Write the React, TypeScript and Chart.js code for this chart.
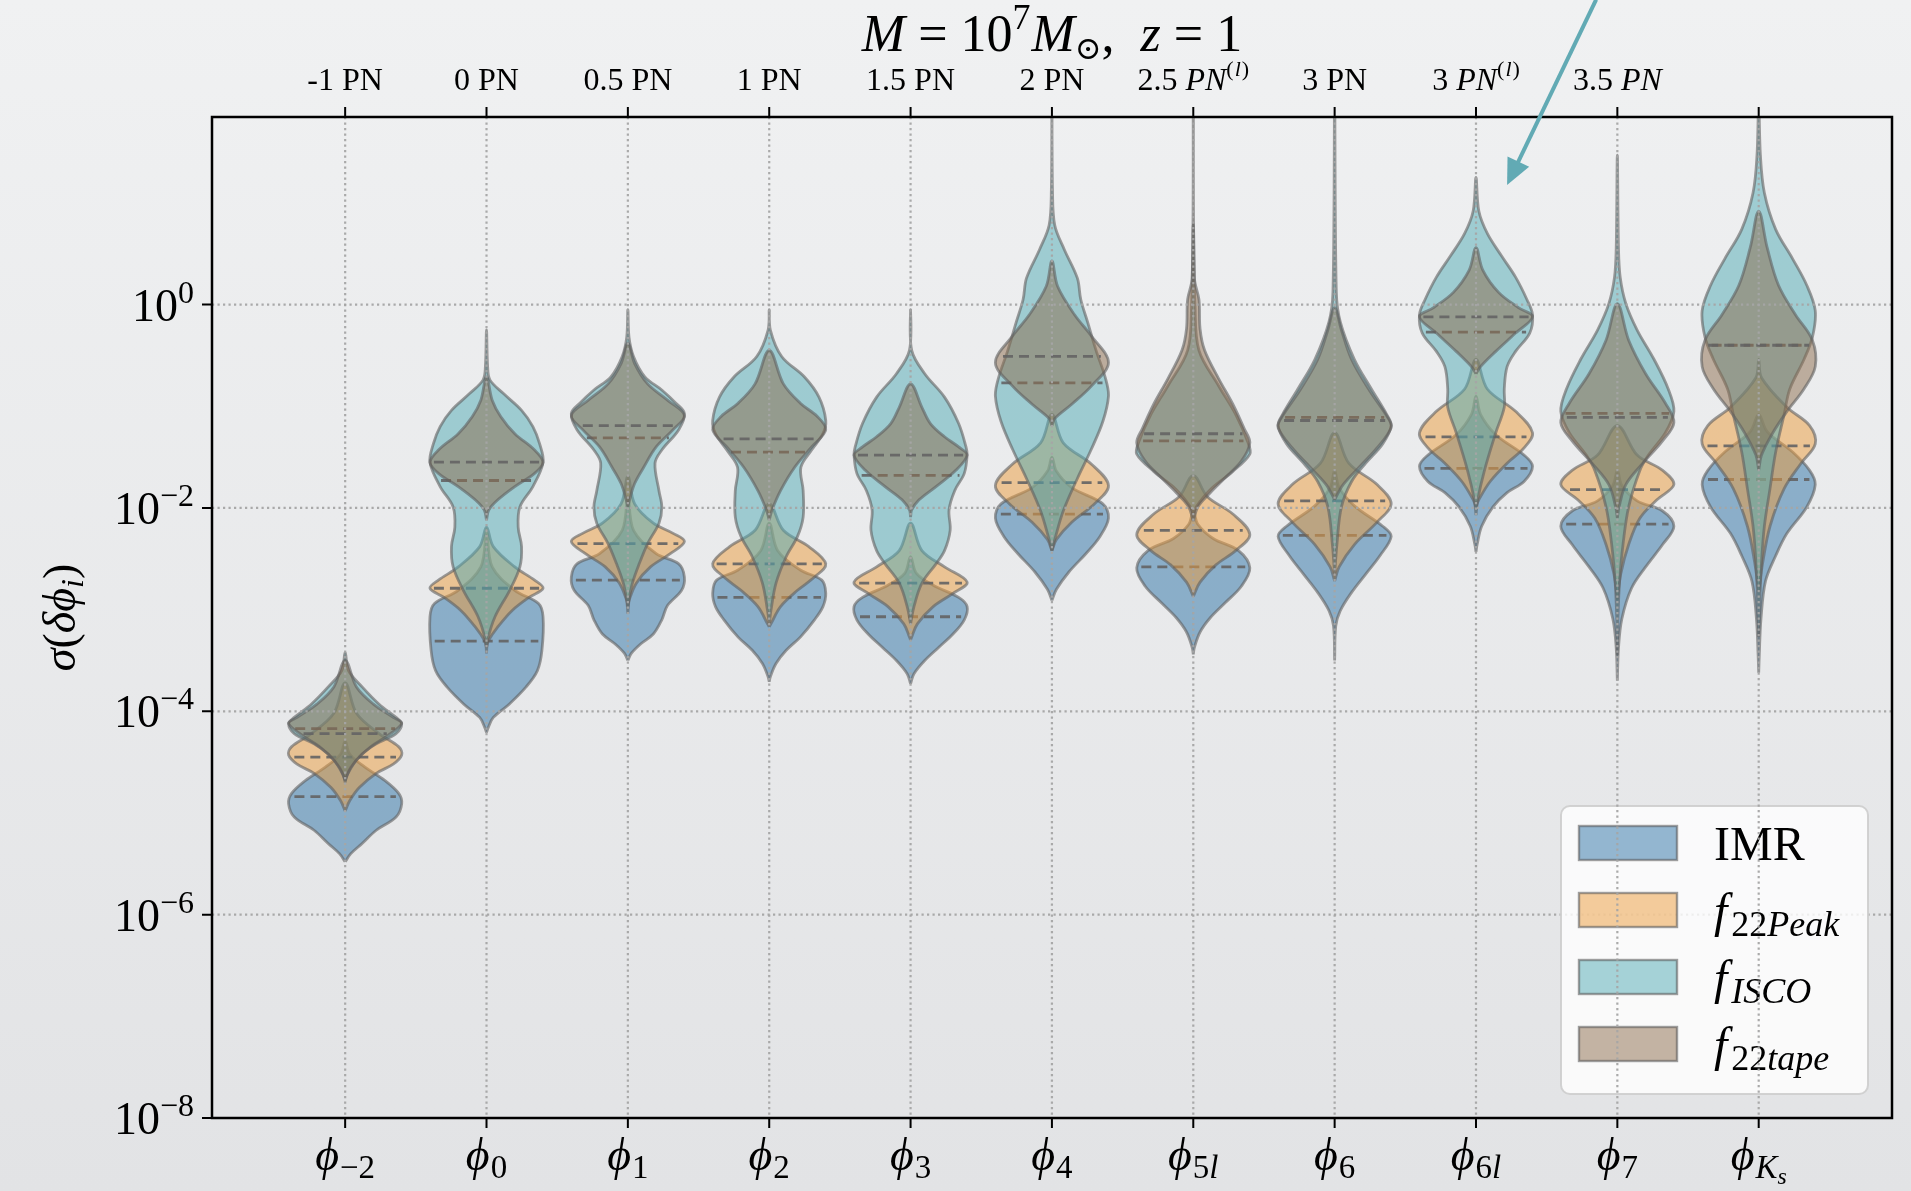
import React, { useEffect, useRef } from "react";
import { Chart, registerables } from "chart.js";

Chart.register(...registerables);

// ---------------- data ----------------
const categorySubscripts = ["−2", "0", "1", "2", "3", "4", "5l", "6", "6l", "7", "Ks"];
const pnLabels = ["-1 PN", "0 PN", "0.5 PN", "1 PN", "1.5 PN", "2 PN", "2.5 PN^(l)", "3 PN", "3 PN^(l)", "3.5 PN", ""];
const pnItalic = [false, false, false, false, false, false, true, false, true, true, false];
const yTickExponents = [-8, -6, -4, -2, 0];
const seriesNames = ["IMR", "f_22Peak", "f_ISCO", "f_22tape"];

// violin outlines: [log10 sigma, relative half-width] from top tip to bottom tip
const imrProfiles = [
  [[-4.29, 0], [-4.42, 0.08], [-4.55, 0.35], [-4.68, 0.7], [-4.81, 0.95], [-4.91, 1], [-5.04, 0.9], [-5.17, 0.55], [-5.3, 0.3], [-5.4, 0.1], [-5.48, 0]],
  [[-2.25, 0], [-2.58, 0.1], [-2.81, 0.5], [-2.94, 0.92], [-3.07, 1], [-3.4, 0.98], [-3.6, 0.9], [-3.76, 0.7], [-3.93, 0.4], [-4.06, 0.12], [-4.16, 0.03], [-4.21, 0]],
  [[-1.89, 0], [-2.22, 0.1], [-2.45, 0.5], [-2.55, 0.9], [-2.68, 1], [-2.81, 0.95], [-2.96, 0.7], [-3.1, 0.6], [-3.24, 0.45], [-3.34, 0.22], [-3.43, 0.06], [-3.5, 0]],
  [[-2.15, 0], [-2.42, 0.15], [-2.61, 0.55], [-2.71, 0.93], [-2.84, 1], [-2.97, 0.95], [-3.1, 0.8], [-3.27, 0.55], [-3.4, 0.3], [-3.53, 0.12], [-3.66, 0.02], [-3.71, 0]],
  [[-2.48, 0], [-2.64, 0.1], [-2.76, 0.4], [-2.88, 0.85], [-2.97, 1], [-3.1, 0.95], [-3.24, 0.75], [-3.37, 0.5], [-3.5, 0.25], [-3.63, 0.06], [-3.73, 0]],
  [[-1.5, 0], [-1.64, 0.08], [-1.8, 0.35], [-1.96, 0.9], [-2.1, 1], [-2.28, 0.85], [-2.45, 0.6], [-2.63, 0.3], [-2.8, 0.08], [-2.91, 0]],
  [[-2.03, 0], [-2.16, 0.08], [-2.3, 0.35], [-2.42, 0.8], [-2.59, 1], [-2.77, 0.85], [-2.94, 0.55], [-3.08, 0.3], [-3.22, 0.12], [-3.37, 0.02], [-3.44, 0]],
  [[-1.63, 0], [-1.8, 0.08], [-1.98, 0.35], [-2.18, 0.85], [-2.28, 1], [-2.47, 0.8], [-2.65, 0.55], [-2.83, 0.3], [-3.01, 0.1], [-3.16, 0.02], [-3.5, 0]],
  [[-0.9, 0], [-1.08, 0.08], [-1.28, 0.35], [-1.48, 0.85], [-1.59, 1], [-1.74, 0.85], [-1.85, 0.55], [-1.99, 0.3], [-2.18, 0.1], [-2.36, 0.02], [-2.43, 0]],
  [[-1.63, 0], [-1.78, 0.08], [-1.93, 0.35], [-2.03, 0.8], [-2.18, 1], [-2.36, 0.8], [-2.58, 0.5], [-2.79, 0.25], [-3.09, 0.08], [-3.38, 0.02], [-3.7, 0]],
  [[-1.08, 0], [-1.25, 0.15], [-1.45, 0.6], [-1.63, 0.9], [-1.77, 1], [-1.99, 0.85], [-2.25, 0.5], [-2.47, 0.3], [-2.72, 0.12], [-3.09, 0.04], [-3.45, 0.01], [-3.62, 0]],
];
const peakProfiles = [
  [[-3.72, 0], [-4.02, 0.2], [-4.22, 0.6], [-4.35, 0.95], [-4.43, 1], [-4.52, 0.85], [-4.61, 0.55], [-4.75, 0.25], [-4.88, 0.08], [-4.98, 0]],
  [[-2.19, 0], [-2.38, 0.12], [-2.58, 0.5], [-2.71, 0.85], [-2.79, 1], [-2.88, 0.75], [-3.01, 0.45], [-3.17, 0.2], [-3.3, 0.04], [-3.37, 0]],
  [[-1.69, 0], [-1.96, 0.12], [-2.15, 0.45], [-2.25, 0.8], [-2.33, 1], [-2.45, 0.75], [-2.58, 0.4], [-2.74, 0.15], [-2.91, 0.02], [-2.97, 0]],
  [[-1.96, 0], [-2.22, 0.25], [-2.38, 0.7], [-2.55, 1], [-2.68, 0.8], [-2.81, 0.5], [-2.97, 0.2], [-3.14, 0.03], [-3.17, 0]],
  [[-2.15, 0], [-2.42, 0.2], [-2.58, 0.6], [-2.73, 1], [-2.84, 0.75], [-2.97, 0.4], [-3.14, 0.12], [-3.27, 0.02], [-3.3, 0]],
  [[-1.08, 0], [-1.36, 0.2], [-1.57, 0.7], [-1.78, 1], [-1.96, 0.75], [-2.14, 0.35], [-2.31, 0.08], [-2.42, 0]],
  [[-1.68, 0], [-1.89, 0.25], [-2.06, 0.7], [-2.26, 1], [-2.42, 0.75], [-2.56, 0.4], [-2.73, 0.12], [-2.87, 0]],
  [[-1.26, 0], [-1.56, 0.25], [-1.77, 0.75], [-1.96, 1], [-2.14, 0.75], [-2.36, 0.35], [-2.58, 0.08], [-2.72, 0]],
  [[-0.54, 0], [-0.83, 0.2], [-1.05, 0.7], [-1.26, 1], [-1.41, 0.85], [-1.56, 0.55], [-1.74, 0.25], [-1.92, 0.05], [-1.99, 0]],
  [[-1.19, 0], [-1.48, 0.35], [-1.63, 0.8], [-1.77, 1], [-1.92, 0.7], [-2.1, 0.4], [-2.36, 0.2], [-2.65, 0.06], [-2.9, 0]],
  [[-0.54, 0], [-0.72, 0.05], [-1.01, 0.5], [-1.19, 0.9], [-1.37, 1], [-1.56, 0.75], [-1.81, 0.45], [-2.18, 0.2], [-2.54, 0.07], [-2.83, 0]],
];
const iscoProfiles = [
  [[-3.42, 0], [-3.6, 0.06], [-3.76, 0.3], [-3.93, 0.6], [-4.06, 0.9], [-4.12, 1], [-4.22, 0.9], [-4.32, 0.55], [-4.42, 0.3], [-4.55, 0.1], [-4.65, 0.02], [-4.7, 0]],
  [[-0.25, 0], [-0.61, 0.02], [-0.74, 0.06], [-0.875, 0.3], [-1.04, 0.62], [-1.2, 0.82], [-1.37, 0.94], [-1.55, 1], [-1.79, 0.82], [-1.99, 0.59], [-2.19, 0.56], [-2.38, 0.62], [-2.58, 0.59], [-2.81, 0.41], [-3.07, 0.15], [-3.3, 0.02], [-3.43, 0]],
  [[-0.05, 0], [-0.32, 0.02], [-0.51, 0.1], [-0.71, 0.3], [-0.84, 0.6], [-0.97, 0.85], [-1.07, 1], [-1.23, 0.9], [-1.43, 0.6], [-1.56, 0.48], [-1.83, 0.55], [-1.99, 0.6], [-2.15, 0.55], [-2.35, 0.35], [-2.55, 0.2], [-2.74, 0.08], [-2.91, 0.02], [-3.04, 0]],
  [[-0.05, 0], [-0.25, 0.02], [-0.51, 0.22], [-0.71, 0.62], [-0.91, 0.88], [-1.14, 1], [-1.27, 0.95], [-1.43, 0.75], [-1.6, 0.56], [-1.83, 0.6], [-2.09, 0.6], [-2.28, 0.5], [-2.48, 0.3], [-2.74, 0.12], [-3.01, 0.03], [-3.14, 0]],
  [[-0.05, 0], [-0.45, 0.02], [-0.68, 0.25], [-0.91, 0.6], [-1.17, 0.85], [-1.4, 0.98], [-1.48, 1], [-1.66, 0.95], [-1.83, 0.78], [-2.02, 0.68], [-2.22, 0.7], [-2.42, 0.6], [-2.55, 0.45], [-2.74, 0.2], [-2.97, 0.06], [-3.14, 0]],
  [[2.0, 0], [1.13, 0.01], [0.78, 0.05], [0.54, 0.22], [0.26, 0.45], [0.05, 0.51], [-0.17, 0.63], [-0.45, 0.78], [-0.73, 0.95], [-0.9, 1], [-1.15, 0.9], [-1.43, 0.69], [-1.71, 0.45], [-2.03, 0.2], [-2.31, 0.05], [-2.42, 0]],
  [[0.8, 0], [0.0, 0.03], [-0.45, 0.1], [-0.8, 0.45], [-1.08, 0.75], [-1.36, 0.97], [-1.47, 1], [-1.64, 0.7], [-1.82, 0.3], [-1.99, 0.05], [-2.06, 0]],
  [[2.0, 0], [0.12, 0.03], [-0.17, 0.1], [-0.54, 0.35], [-0.83, 0.65], [-1.08, 0.92], [-1.19, 1], [-1.37, 0.85], [-1.56, 0.55], [-1.74, 0.3], [-1.99, 0.12], [-2.36, 0.04], [-2.65, 0]],
  [[1.25, 0], [0.92, 0.05], [0.7, 0.2], [0.48, 0.45], [0.27, 0.7], [0.05, 0.9], [-0.1, 1], [-0.28, 0.95], [-0.46, 0.7], [-0.61, 0.55], [-0.83, 0.5], [-1.01, 0.5], [-1.26, 0.35], [-1.63, 0.15], [-1.92, 0.03], [-2.07, 0]],
  [[1.47, 0], [0.56, 0.02], [0.27, 0.05], [0.01, 0.15], [-0.25, 0.35], [-0.54, 0.65], [-0.83, 0.9], [-1.05, 1], [-1.26, 0.85], [-1.48, 0.55], [-1.63, 0.4], [-1.99, 0.2], [-2.36, 0.1], [-2.72, 0.04], [-3.09, 0.01], [-3.45, 0]],
  [[2.0, 0], [1.47, 0.03], [1.1, 0.1], [0.74, 0.3], [0.45, 0.6], [0.19, 0.85], [-0.06, 1], [-0.32, 0.95], [-0.54, 0.8], [-0.83, 0.55], [-1.08, 0.45], [-1.45, 0.3], [-1.81, 0.2], [-2.18, 0.1], [-2.54, 0.05], [-2.9, 0.02], [-3.27, 0]],
];
const tapeProfiles = [
  [[-3.5, 0], [-3.76, 0.2], [-3.93, 0.5], [-4.06, 0.85], [-4.12, 1], [-4.24, 0.75], [-4.35, 0.45], [-4.48, 0.2], [-4.61, 0.05], [-4.68, 0]],
  [[-0.71, 0], [-0.94, 0.1], [-1.1, 0.25], [-1.27, 0.5], [-1.43, 0.85], [-1.55, 1], [-1.66, 0.85], [-1.79, 0.5], [-1.92, 0.2], [-2.02, 0.04], [-2.12, 0]],
  [[-0.38, 0], [-0.58, 0.12], [-0.78, 0.35], [-0.94, 0.7], [-1.09, 1], [-1.23, 0.8], [-1.4, 0.5], [-1.6, 0.28], [-1.76, 0.12], [-1.92, 0.03], [-1.99, 0]],
  [[-0.45, 0], [-0.78, 0.25], [-0.97, 0.55], [-1.1, 0.85], [-1.23, 1], [-1.4, 0.75], [-1.6, 0.45], [-1.83, 0.2], [-2.02, 0.05], [-2.12, 0]],
  [[-0.78, 0], [-1.01, 0.2], [-1.17, 0.35], [-1.3, 0.6], [-1.4, 0.85], [-1.48, 1], [-1.63, 0.8], [-1.79, 0.45], [-1.92, 0.15], [-2.02, 0.02], [-2.09, 0]],
  [[0.43, 0], [0.18, 0.1], [-0.1, 0.4], [-0.31, 0.7], [-0.57, 1], [-0.8, 0.7], [-0.98, 0.35], [-1.12, 0.05], [-1.19, 0]],
  [[2.0, 0], [0.26, 0.02], [0.05, 0.1], [-0.24, 0.12], [-0.45, 0.2], [-0.73, 0.45], [-0.98, 0.7], [-1.22, 0.9], [-1.36, 1], [-1.54, 0.85], [-1.71, 0.55], [-1.85, 0.3], [-1.99, 0.08], [-2.13, 0]],
  [[-0.03, 0], [-0.25, 0.12], [-0.54, 0.3], [-0.83, 0.6], [-1.12, 0.95], [-1.21, 1], [-1.41, 0.75], [-1.59, 0.45], [-1.77, 0.15], [-1.92, 0]],
  [[0.56, 0], [0.34, 0.12], [0.12, 0.4], [-0.03, 0.75], [-0.12, 1], [-0.28, 0.7], [-0.46, 0.35], [-0.61, 0.08], [-0.68, 0]],
  [[0.01, 0], [-0.35, 0.2], [-0.68, 0.5], [-0.97, 0.85], [-1.16, 1], [-1.34, 0.8], [-1.56, 0.45], [-1.77, 0.15], [-1.99, 0.03], [-2.1, 0]],
  [[0.92, 0], [0.56, 0.15], [0.19, 0.35], [-0.1, 0.65], [-0.35, 0.95], [-0.61, 1], [-0.83, 0.8], [-1.05, 0.5], [-1.26, 0.25], [-1.48, 0.05], [-1.63, 0]],
];

// medians (log10 sigma)
const imrMedians = [-4.84, -3.31, -2.71, -2.88, -3.07, -2.06, -2.58, -2.27, -1.61, -2.16, -1.72];
const peakMedians = [-4.45, -2.79, -2.35, -2.55, -2.74, -1.75, -2.22, -1.93, -1.3, -1.82, -1.39];
const iscoMedians = [-4.17, -1.73, -1.31, -1.45, -1.68, -0.77, -1.34, -1.11, -0.27, -1.07, -0.4];
const tapeMedians = [-4.22, -1.55, -1.19, -1.32, -1.48, -0.51, -1.27, -1.14, -0.12, -1.11, -0.4];

// annotation arrow (data coordinates): from -> to
const arrowFrom = { x: 8.85, y: 1000 };
const arrowTo = { x: 8.22, y: 15 };

// ---------------- styles ----------------
const seriesFill = ["rgba(44,113,165,0.5)", "rgba(235,155,60,0.5)", "rgba(80,170,180,0.5)", "rgba(140,108,76,0.5)"];
const EDGE = "rgba(95,95,95,0.6)";
const MEDIAN = "rgba(100,100,100,0.9)";
const GRID = "rgba(165,165,165,0.95)";
const ARROW = "#62aab4";
const SERIF = '"Liberation Serif", "DejaVu Serif", "Times New Roman", serif';
const HALF_WIDTH = 0.4;

type Run = { t: string; s: number; i?: boolean; dy?: number; dx?: number };

function fontOf(r: Run) {
  return `${r.i ? "italic " : ""}${r.s}px ${SERIF}`;
}
function widthOf(ctx: CanvasRenderingContext2D, runs: Run[]) {
  let w = 0;
  for (const r of runs) {
    ctx.font = fontOf(r);
    w += ctx.measureText(r.t).width + (r.dx ?? 0);
  }
  return w;
}
function drawRuns(ctx: CanvasRenderingContext2D, runs: Run[], x: number, y: number, align: "left" | "center" | "right") {
  const w = widthOf(ctx, runs);
  let cx = align === "left" ? x : align === "center" ? x - w / 2 : x - w;
  ctx.textAlign = "left";
  ctx.textBaseline = "alphabetic";
  for (const r of runs) {
    ctx.font = fontOf(r);
    ctx.fillText(r.t, cx, y + (r.dy ?? 0));
    cx += ctx.measureText(r.t).width + (r.dx ?? 0);
  }
}

function subscriptRuns(sub: string, size: number, dy: number): Run[] {
  const runs: Run[] = [];
  let k = 0;
  while (k < sub.length) {
    const ch = sub[k];
    if (k > 0 && sub[k - 1] === "K") {
      runs.push({ t: ch, s: size * 0.72, i: true, dy: dy + 6 });
      k++;
      continue;
    }
    const isLetter = /[A-Za-z]/.test(ch);
    let j = k;
    while (j < sub.length && /[A-Za-z]/.test(sub[j]) === isLetter && !(j > k && sub[j - 1] === "K")) j++;
    runs.push({ t: sub.slice(k, j), s: size, i: isLetter, dy });
    k = j;
  }
  return runs;
}

function categoryRuns(sub: string): Run[] {
  return [{ t: "ϕ", s: 46, i: true, dx: 1 }, ...subscriptRuns(sub, 33, 8)];
}

function pnRuns(label: string, italic: boolean): Run[] {
  const [base, sup] = label.split("^");
  const num = base.slice(0, base.length - 2);
  const runs: Run[] = [
    { t: num, s: 32 },
    { t: "PN", s: 32, i: italic },
  ];
  if (sup) {
    runs.push({ t: "(", s: 22, dy: -14, dx: 1 });
    runs.push({ t: "l", s: 22, i: true, dy: -14, dx: 1 });
    runs.push({ t: ")", s: 22, dy: -14 });
  }
  return runs;
}

function seriesRuns(name: string): Run[] {
  if (!name.startsWith("f_")) return [{ t: name, s: 48 }];
  return [{ t: "f", s: 48, i: true, dx: 4 }, ...subscriptRuns(name.slice(2), 36, 9)];
}

function widthAt(profile: number[][], L: number) {
  for (let k = 0; k < profile.length - 1; k++) {
    const [l1, w1] = profile[k];
    const [l2, w2] = profile[k + 1];
    if (L <= l1 && L >= l2) {
      const t = (l1 - L) / (l1 - l2 || 1);
      return w1 + t * (w2 - w1);
    }
  }
  return 0;
}

function violinPolygon(pos: number, profile: number[][]) {
  const pts: { x: number; y: number }[] = [];
  for (let k = profile.length - 1; k >= 0; k--) pts.push({ x: pos + profile[k][1] * HALF_WIDTH, y: Math.pow(10, profile[k][0]) });
  for (let k = 1; k < profile.length; k++) pts.push({ x: pos - profile[k][1] * HALF_WIDTH, y: Math.pow(10, profile[k][0]) });
  return pts;
}

function buildDatasets() {
  const allProfiles = [imrProfiles, peakProfiles, iscoProfiles, tapeProfiles];
  const allMedians = [imrMedians, peakMedians, iscoMedians, tapeMedians];
  const datasets: any[] = [];
  allProfiles.forEach((profiles, s) => {
    profiles.forEach((prof, i) => {
      datasets.push({
        label: `${seriesNames[s]}-${i}`,
        data: violinPolygon(i, prof),
        showLine: true,
        fill: "shape",
        backgroundColor: seriesFill[s],
        borderColor: EDGE,
        borderWidth: 2.8,
        borderJoinStyle: "round",
        pointRadius: 0,
        pointHoverRadius: 0,
        tension: 0.35,
        order: 20 - s * 2,
      });
      const m = allMedians[s][i];
      const w = widthAt(prof, m) * HALF_WIDTH * 0.93;
      datasets.push({
        label: `${seriesNames[s]}-median-${i}`,
        data: [
          { x: i - w, y: Math.pow(10, m) },
          { x: i + w, y: Math.pow(10, m) },
        ],
        showLine: true,
        fill: false,
        borderColor: MEDIAN,
        borderWidth: 2.8,
        borderDash: [10, 6],
        pointRadius: 0,
        pointHoverRadius: 0,
        tension: 0,
        order: 19 - s * 2,
      });
    });
  });
  return datasets;
}

const decorPlugin = {
  id: "decor",
  afterDatasetsDraw(chart: any) {
    const { ctx, chartArea: a, scales } = chart;
    const xs = scales.x;
    const ys = scales.y;
    // horizontal grid
    ctx.save();
    ctx.strokeStyle = GRID;
    ctx.lineWidth = 2.2;
    ctx.setLineDash([2.2, 3.3]);
    for (const e of yTickExponents) {
      const py = ys.getPixelForValue(Math.pow(10, e));
      if (py < a.bottom - 2 && py > a.top + 2) {
        ctx.beginPath();
        ctx.moveTo(a.left, py);
        ctx.lineTo(a.right, py);
        ctx.stroke();
      }
    }
    ctx.restore();

    // legend
    const bw = 307, bh = 288;
    const bx = a.right - 24 - bw;
    const by = a.bottom - 24 - bh;
    ctx.save();
    ctx.beginPath();
    ctx.roundRect(bx, by, bw, bh, 9);
    ctx.fillStyle = "rgba(255,255,255,0.8)";
    ctx.fill();
    ctx.lineWidth = 2;
    ctx.strokeStyle = "rgba(205,205,205,0.9)";
    ctx.stroke();
    seriesNames.forEach((name, s) => {
      const top = by + 20 + s * 67;
      ctx.fillStyle = seriesFill[s];
      ctx.fillRect(bx + 18, top, 98, 34);
      ctx.lineWidth = 2.4;
      ctx.strokeStyle = EDGE;
      ctx.strokeRect(bx + 18, top, 98, 34);
      ctx.fillStyle = "#000";
      drawRuns(ctx, seriesRuns(name), bx + 153, top + 17 + 17, "left");
    });
    ctx.restore();

    // vertical dotted lines at categories
    ctx.save();
    ctx.strokeStyle = GRID;
    ctx.lineWidth = 2.2;
    ctx.setLineDash([2.2, 3.3]);
    categorySubscripts.forEach((_, i) => {
      const px = xs.getPixelForValue(i);
      ctx.beginPath();
      ctx.moveTo(px, a.top);
      ctx.lineTo(px, a.bottom);
      ctx.stroke();
    });
    ctx.restore();
  },
  afterDraw(chart: any) {
    const { ctx, chartArea: a, scales } = chart;
    const xs = scales.x;
    const ys = scales.y;
    ctx.save();
    // frame
    ctx.strokeStyle = "#000";
    ctx.lineWidth = 2.5;
    ctx.setLineDash([]);
    ctx.strokeRect(a.left, a.top, a.right - a.left, a.bottom - a.top);
    // ticks
    ctx.lineWidth = 2;
    ctx.beginPath();
    categorySubscripts.forEach((_, i) => {
      const px = xs.getPixelForValue(i);
      ctx.moveTo(px, a.bottom);
      ctx.lineTo(px, a.bottom + 10);
      ctx.moveTo(px, a.top);
      ctx.lineTo(px, a.top - 10);
    });
    yTickExponents.forEach((e) => {
      const py = ys.getPixelForValue(Math.pow(10, e));
      ctx.moveTo(a.left, py);
      ctx.lineTo(a.left - 10, py);
    });
    ctx.stroke();

    ctx.fillStyle = "#000";
    // bottom labels
    categorySubscripts.forEach((sub, i) => {
      drawRuns(ctx, categoryRuns(sub), xs.getPixelForValue(i), a.bottom + 52, "center");
    });
    // top labels
    pnLabels.forEach((lab, i) => {
      if (!lab) return;
      drawRuns(ctx, pnRuns(lab, pnItalic[i]), xs.getPixelForValue(i), a.top - 27, "center");
    });
    // y tick labels
    yTickExponents.forEach((e) => {
      const py = ys.getPixelForValue(Math.pow(10, e));
      const ex = e === 0 ? "0" : "−" + Math.abs(e);
      drawRuns(ctx, [{ t: "10", s: 46 }, { t: ex, s: 32, dy: -18 }], a.left - 18, py + 16, "right");
    });
    // title
    drawRuns(
      ctx,
      [
        { t: "M", s: 52, i: true },
        { t: " = ", s: 52 },
        { t: "10", s: 52 },
        { t: "7", s: 36, dy: -22, dx: 1 },
        { t: "M", s: 52, i: true },
        { t: "⊙", s: 32, dy: 8 },
        { t: ",  ", s: 52 },
        { t: "z", s: 52, i: true },
        { t: " = ", s: 52 },
        { t: "1", s: 52 },
      ],
      (a.left + a.right) / 2,
      51,
      "center"
    );
    // y axis label
    ctx.save();
    ctx.translate(63, (a.top + a.bottom) / 2);
    ctx.rotate(-Math.PI / 2);
    drawRuns(
      ctx,
      [
        { t: "σ", s: 46, i: true },
        { t: "(", s: 46 },
        { t: "δ", s: 46, i: true },
        { t: "ϕ", s: 46, i: true },
        { t: "i", s: 32, i: true, dy: 8 },
        { t: ")", s: 46 },
      ],
      0,
      12,
      "center"
    );
    ctx.restore();

    // annotation arrow
    const x1 = xs.getPixelForValue(arrowFrom.x);
    const y1 = ys.getPixelForValue(arrowFrom.y);
    const x2 = xs.getPixelForValue(arrowTo.x);
    const y2 = ys.getPixelForValue(arrowTo.y);
    const len = Math.hypot(x2 - x1, y2 - y1);
    const ux = (x2 - x1) / len;
    const uy = (y2 - y1) / len;
    const headLen = 26;
    const headHalf = 12;
    const bxp = x2 - ux * headLen;
    const byp = y2 - uy * headLen;
    ctx.strokeStyle = ARROW;
    ctx.fillStyle = ARROW;
    ctx.lineWidth = 4;
    ctx.beginPath();
    ctx.moveTo(x1, y1);
    ctx.lineTo(bxp + ux * 2, byp + uy * 2);
    ctx.stroke();
    ctx.beginPath();
    ctx.moveTo(x2, y2);
    ctx.lineTo(bxp - uy * headHalf, byp + ux * headHalf);
    ctx.lineTo(bxp + uy * headHalf, byp - ux * headHalf);
    ctx.closePath();
    ctx.fill();
    ctx.restore();
  },
};

export default function App() {
  const canvasRef = useRef<HTMLCanvasElement | null>(null);
  useEffect(() => {
    if (!canvasRef.current) return;
    const chart = new Chart(canvasRef.current, {
      type: "scatter",
      data: { datasets: buildDatasets() },
      options: {
        animation: false,
        responsive: false,
        maintainAspectRatio: false,
        devicePixelRatio: 1,
        layout: { padding: { left: 212, top: 117, right: 19, bottom: 73 } },
        scales: {
          x: { type: "linear", min: -0.942, max: 10.943, display: false },
          y: { type: "logarithmic", min: 1e-8, max: 70, display: false },
        },
        plugins: { legend: { display: false }, tooltip: { enabled: false } },
        events: [],
      } as any,
      plugins: [decorPlugin as any],
    });
    return () => chart.destroy();
  }, []);
  return (
    <div
      style={{
        position: "fixed",
        left: 0,
        top: 0,
        width: 1911,
        height: 1191,
        background: "linear-gradient(180deg, #f0f1f2 0%, #e2e3e5 100%)",
      }}
    >
      <canvas ref={canvasRef} width={1911} height={1191} style={{ display: "block", width: 1911, height: 1191 }} />
    </div>
  );
}
